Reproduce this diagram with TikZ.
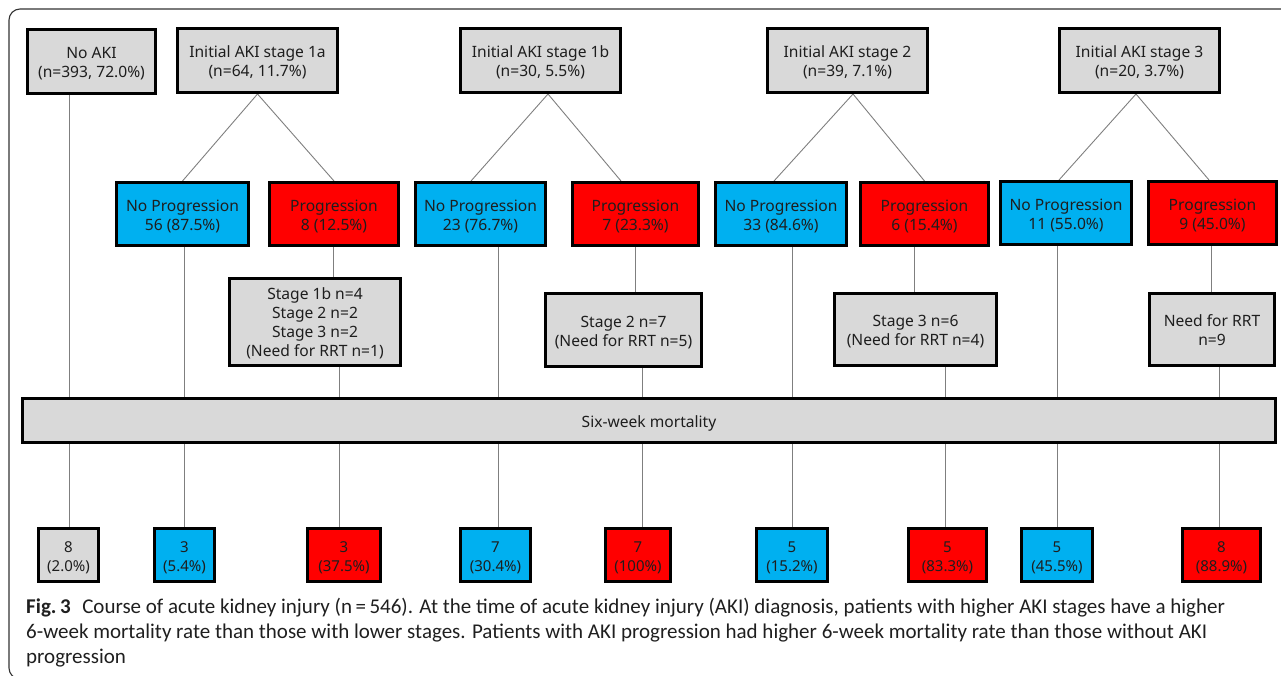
\documentclass[tikz,border=0pt]{standalone}
\usepackage{fontspec}
\setmainfont{Noto Sans}
\newfontfamily\capfont{Carlito}
\usetikzlibrary{backgrounds}
\definecolor{boxgrey}{HTML}{D9D9D9}
\definecolor{boxblue}{HTML}{00B0F0}
\definecolor{boxred}{HTML}{FF0000}
\definecolor{txt}{HTML}{1E1E1E}
\definecolor{conn}{HTML}{7F7F7F}
% box text: stacked lines, lowered a little without changing the box size
\newcommand{\bt}[2][3pt]{\raisebox{-#1}[\height][\depth]{\begin{tabular}{@{}c@{}}#2\end{tabular}}}
\tikzset{
  box/.style={draw=black, line width=3pt, inner sep=1pt, text=txt,
    font=\fontsize{15.6}{19.2}\selectfont},
  gbox/.style={box, fill=boxgrey},
  bbox/.style={box, fill=boxblue},
  rbox/.style={box, fill=boxred},
  mbox/.style={font=\fontsize{15}{19}\selectfont},
  link/.style={draw=conn, line width=0.9pt},
  captext/.style={font=\capfont\fontsize{21}{24}\selectfont, text=black!88, anchor=base west, inner sep=0pt},
}
\begin{document}
\begin{tikzpicture}[x=1pt, y=-1pt]
\useasboundingbox (0,0) rectangle (1281,676);
% frame
\draw[draw=black!80, line width=1.1pt, rounded corners=11pt] (60,679) -- (9,679) -- (9,9) -- (1295,9);
% top row
\node[gbox, minimum width=128pt, minimum height=64pt] (noaki) at (91.5,61.5) {\bt{No AKI\\(n=393, 72.0\%)}};
\node[gbox, minimum width=160pt, minimum height=64pt] (s1a) at (257.5,60.5) {\bt{Initial AKI stage 1a\\(n=64, 11.7\%)}};
\node[gbox, minimum width=160pt, minimum height=64pt] (s1b) at (540.5,60.5) {\bt{Initial AKI stage 1b\\(n=30, 5.5\%)}};
\node[gbox, minimum width=160pt, minimum height=64pt] (s2) at (847.5,60.5) {\bt{Initial AKI stage 2\\(n=39, 7.1\%)}};
\node[gbox, minimum width=160pt, minimum height=64pt] (s3) at (1139.5,60.5) {\bt{Initial AKI stage 3\\(n=20, 3.7\%)}};
% second row
\node[bbox, minimum width=132pt, minimum height=63pt] (np1) at (182.5,214) {\bt{No Progression\\56 (87.5\%)}};
\node[rbox, minimum width=129pt, minimum height=63pt] (p1) at (334,214) {\bt{Progression\\8 (12.5\%)}};
\node[bbox, minimum width=130pt, minimum height=63pt] (np2) at (480.5,214) {\bt{No Progression\\23 (76.7\%)}};
\node[rbox, minimum width=126pt, minimum height=63pt] (p2) at (635.5,214) {\bt{Progression\\7 (23.3\%)}};
\node[bbox, minimum width=131pt, minimum height=63pt] (np3) at (781,214) {\bt{No Progression\\33 (84.6\%)}};
\node[rbox, minimum width=128pt, minimum height=63pt] (p3) at (924.5,214) {\bt{Progression\\6 (15.4\%)}};
\node[bbox, minimum width=131pt, minimum height=63pt] (np4) at (1066,213) {\bt{No Progression\\11 (55.0\%)}};
\node[rbox, minimum width=128pt, minimum height=63pt] (p4) at (1212.5,213) {\bt{Progression\\9 (45.0\%)}};
% third row
\node[gbox, minimum width=171pt, minimum height=87pt] (d1) at (315,322) {\bt[2pt]{Stage 1b n=4\\Stage 2 n=2\\Stage 3 n=2\\(Need for RRT n=1)}};
\node[gbox, minimum width=156pt, minimum height=73pt] (d2) at (623.5,330) {\bt{Stage 2 n=7\\(Need for RRT n=5)}};
\node[gbox, minimum width=162pt, minimum height=72pt] (d3) at (915.5,329.5) {\bt{Stage 3 n=6\\(Need for RRT n=4)}};
\node[gbox, minimum width=125pt, minimum height=72pt] (d4) at (1212,329.5) {\bt{Need for RRT\\n=9}};
% bar
\node[gbox, minimum width=1253pt, minimum height=44pt] (bar) at (649,420.5) {\bt[3.5pt]{Six-week mortality}};
% bottom row
\node[gbox, mbox, minimum width=60pt, minimum height=53pt] (m0) at (68.5,555) {\bt{8\\(2.0\%)}};
\node[bbox, mbox, minimum width=60pt, minimum height=53pt] (m1) at (184.5,555) {\bt{3\\(5.4\%)}};
\node[rbox, mbox, minimum width=73pt, minimum height=53pt] (m2) at (344,555) {\bt{3\\(37.5\%)}};
\node[bbox, mbox, minimum width=70pt, minimum height=53pt] (m3) at (495.5,555) {\bt{7\\(30.4\%)}};
\node[rbox, mbox, minimum width=65pt, minimum height=53pt] (m4) at (638,555) {\bt{7\\(100\%)}};
\node[bbox, mbox, minimum width=71pt, minimum height=53pt] (m5) at (792,555) {\bt{5\\(15.2\%)}};
\node[rbox, mbox, minimum width=78pt, minimum height=53pt] (m6) at (947.5,555) {\bt{5\\(83.3\%)}};
\node[bbox, mbox, minimum width=71pt, minimum height=53pt] (m7) at (1057,555) {\bt{5\\(45.5\%)}};
\node[rbox, mbox, minimum width=78pt, minimum height=53pt] (m8) at (1221.5,555) {\bt{8\\(88.9\%)}};
% column x positions
\coordinate (c0) at (69,0);
\coordinate (c1) at (184,0);
\coordinate (c2a) at (333.5,0);
\coordinate (c2) at (339,0);
\coordinate (c3) at (498,0);
\coordinate (c4a) at (635,0);
\coordinate (c4) at (642,0);
\coordinate (c5) at (792,0);
\coordinate (c6a) at (914.5,0);
\coordinate (c6) at (945,0);
\coordinate (c7) at (1057,0);
\coordinate (c8a) at (1211,0);
\coordinate (c8) at (1219,0);
\begin{pgfonlayer}{background}
% tree branches
\draw[link] (s1a.south) -- (np1.north);
\draw[link] (s1a.south) -- (p1.north);
\draw[link] ([xshift=7.5pt]s1b.south) -- ([xshift=-9.5pt]np2.north);
\draw[link] ([xshift=7.5pt]s1b.south) -- ([xshift=-14.5pt]p2.north);
\draw[link] ([xshift=5.5pt]s2.south) -- ([xshift=-7pt]np3.north);
\draw[link] ([xshift=5.5pt]s2.south) -- (p3.north);
\draw[link] ([xshift=-3.5pt]s3.south) -- ([xshift=-7pt]np4.north);
\draw[link] ([xshift=-3.5pt]s3.south) -- ([xshift=-3.5pt]p4.north);
% verticals above bar
\draw[link] (c0 |- noaki.south) -- (c0 |- bar.north);
\draw[link] (c1 |- np1.south) -- (c1 |- bar.north);
\draw[link] (c2a |- p1.south) -- (c2a |- d1.north);
\draw[link] (c2 |- d1.south) -- (c2 |- bar.north);
\draw[link] (c3 |- np2.south) -- (c3 |- bar.north);
\draw[link] (c4a |- p2.south) -- (c4a |- d2.north);
\draw[link] (c4 |- d2.south) -- (c4 |- bar.north);
\draw[link] (c5 |- np3.south) -- (c5 |- bar.north);
\draw[link] (c6a |- p3.south) -- (c6a |- d3.north);
\draw[link] (c6 |- d3.south) -- (c6 |- bar.north);
\draw[link] (c7 |- np4.south) -- (c7 |- bar.north);
\draw[link] (c8a |- p4.south) -- (c8a |- d4.north);
\draw[link] (c8 |- d4.south) -- (c8 |- bar.north);
% verticals below bar
\draw[link] (c0 |- bar.south) -- (c0 |- m0.north);
\draw[link] (c1 |- bar.south) -- (c1 |- m1.north);
\draw[link] (c2 |- bar.south) -- (c2 |- m2.north);
\draw[link] (c3 |- bar.south) -- (c3 |- m3.north);
\draw[link] (c4 |- bar.south) -- (c4 |- m4.north);
\draw[link] (c5 |- bar.south) -- (c5 |- m5.north);
\draw[link] (c6 |- bar.south) -- (c6 |- m6.north);
\draw[link] (c7 |- bar.south) -- (c7 |- m7.north);
\draw[link] (c8 |- bar.south) -- (c8 |- m8.north);
\end{pgfonlayer}
% caption
\node[captext] (cap1) at (26,613) {\textbf{Fig.\,3}\hspace{0.55em}Course of acute kidney injury (n\,=\,546). At the time of acute kidney injury (AKI) diagnosis, patients with higher AKI stages have a higher};
\node[captext] (cap2) at (26,638) {6-week mortality rate than those with lower stages. Patients with AKI progression had higher 6-week mortality rate than those without AKI};
\node[captext] (cap3) at (26,663) {progression};
\end{tikzpicture}
\end{document}
